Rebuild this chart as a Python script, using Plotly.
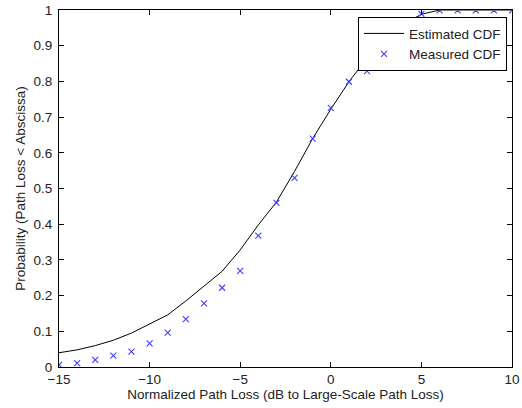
import plotly.graph_objects as go

x_vals = list(range(-15, 11))
estimated_cdf = [0.040, 0.048, 0.060, 0.075, 0.095, 0.120, 0.146, 0.185, 0.226, 0.268,
                 0.328, 0.398, 0.462, 0.548, 0.640, 0.722, 0.799, 0.865, 0.920, 0.960,
                 0.988, 1.0, 1.0, 1.0, 1.0, 1.0]
measured_cdf = [0.006, 0.011, 0.020, 0.032, 0.043, 0.066, 0.096, 0.134, 0.178, 0.222,
                0.269, 0.368, 0.460, 0.530, 0.640, 0.726, 0.799, 0.829, 0.91, 0.96,
                0.989, 0.999, 0.999, 0.999, 0.999, 0.999]
x_ticks = [-15, -10, -5, 0, 5, 10]
y_ticks = [0, 0.1, 0.2, 0.3, 0.4, 0.5, 0.6, 0.7, 0.8, 0.9, 1]
y_tick_text = ["0", "0.1", "0.2", "0.3", "0.4", "0.5", "0.6", "0.7", "0.8", "0.9", "1"]

fig = go.Figure()
fig.add_trace(go.Scatter(x=x_vals, y=estimated_cdf, mode="lines", name="Estimated CDF",
                         line=dict(color="black", width=1)))
fig.add_trace(go.Scatter(x=x_vals, y=measured_cdf, mode="markers", name="Measured CDF",
                         marker=dict(symbol="x-thin", size=6, color="#0000FF",
                                     line=dict(color="#4040FF", width=1.1))))

font = dict(family="Liberation Sans, Arial, sans-serif", size=13.5, color="#222222")
fig.update_layout(
    width=522, height=408,
    margin=dict(l=59, r=10, t=10, b=41),
    paper_bgcolor="white", plot_bgcolor="white",
    font=font,
    showlegend=True,
    legend=dict(x=0.989, y=0.98, xanchor="right", yanchor="top",
                bgcolor="white", bordercolor="black", borderwidth=1,
                font=font, tracegroupgap=0, itemwidth=40),
)
fig.update_xaxes(range=[-15, 10], tickvals=x_ticks, ticks="inside", ticklen=5,
                 tickcolor="black", showline=True, linecolor="black", linewidth=1,
                 mirror="ticks", showgrid=False, zeroline=False, automargin=False,
                 tickfont=font,
                 title=dict(text="Normalized Path Loss (dB to Large-Scale Path Loss)",
                            standoff=2, font=font))
fig.update_yaxes(range=[0, 1], tickvals=y_ticks, ticktext=y_tick_text, ticks="inside",
                 ticklen=5, tickcolor="black", showline=True, linecolor="black",
                 linewidth=1, mirror="ticks", showgrid=False, zeroline=False,
                 automargin=False, tickfont=font, ticklabelstandoff=3,
                 title=dict(text="Probability (Path Loss < Abscissa)", standoff=4, font=font))

fig.write_html("out.html", config={"displayModeBar": False},
               post_script="document.body.style.margin='0';document.body.style.overflow='hidden';")
